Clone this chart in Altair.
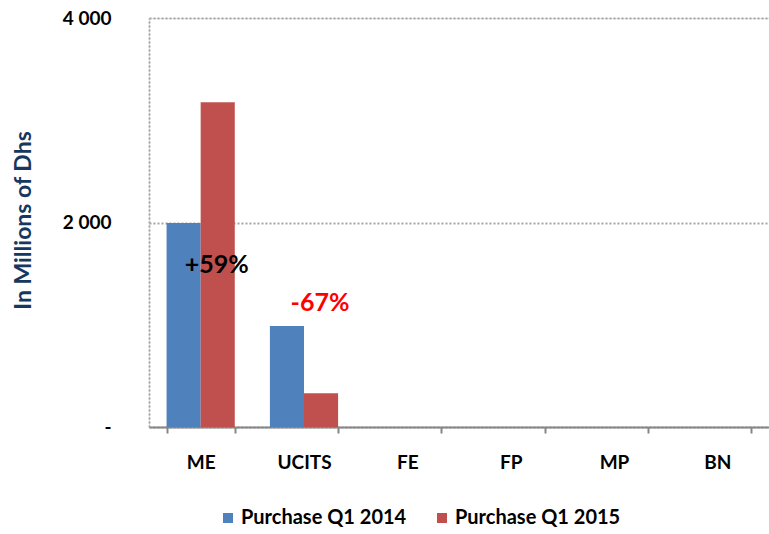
import altair as alt
import pandas as pd

categories = ["ME", "UCITS", "FE", "FP", "MP", "BN"]
series = ["Purchase Q1 2014", "Purchase Q1 2015"]
q1_2014 = [1995, 988, 0, 0, 0, 0]
q1_2015 = [3176, 330, 0, 0, 0, 0]
ann_categories = ["ME", "UCITS"]
ann_change = [59, -67]
ann_y = [1580, 1210]
y_ticks = [0, 2000, 4000]

rows = []
for i, c in enumerate(categories):
    rows.append({"category": c, "series": series[0], "value": q1_2014[i]})
    rows.append({"category": c, "series": series[1], "value": q1_2015[i]})
df = pd.DataFrame(rows)
ann = pd.DataFrame({"category": ann_categories, "change": ann_change, "y": ann_y})
ann["label"] = [("+" if v > 0 else "") + f"{v}%" for v in ann_change]

FONT = "Lato"
W = "bold"
GRID = "#A6A6A6"
AXIS = "#868686"

xenc = alt.X(
    "category:N",
    sort=categories,
    scale=alt.Scale(paddingInner=0.34, paddingOuter=0.17),
    axis=alt.Axis(
        title=None,
        labelAngle=0,
        tickBand="extent",
        domainColor=AXIS,
        domainWidth=2,
        tickColor=AXIS,
        tickWidth=2,
        tickSize=6,
        labelPadding=20,
        labelBaseline="top",
        labelFont=FONT,
        labelFontSize=19,
        labelFontWeight=W,
        labelColor="#000000",
        grid=False,
    ),
)

yenc = alt.Y(
    "value:Q",
    scale=alt.Scale(domain=[0, 4000], nice=False),
    axis=alt.Axis(
        values=y_ticks,
        labelExpr="datum.value == 0 ? '-' : replace(format(datum.value, ','), ',', ' ')",
        ticks=False,
        labelPadding=38,
        labelFont=FONT,
        labelFontSize=19,
        labelFontWeight=W,
        labelColor="#000000",
        domainColor=GRID,
        domainDash=[2, 2],
        domainWidth=2,
        grid=True,
        gridColor=GRID,
        gridDash=[2, 2],
        gridWidth=2,
        title="In Millions of Dhs",
        titleFont=FONT,
        titleFontSize=23,
        titleFontWeight=W,
        titleColor="#17375E",
        titleAngle=270,
        titleX=-126,
        titleY=202,
        titleAlign="center",
        titleBaseline="middle",
    ),
)

bars = alt.Chart(df).mark_bar().encode(
    x=xenc,
    y=yenc,
    xOffset=alt.XOffset("series:N", sort=series, scale=alt.Scale(paddingInner=0, paddingOuter=0)),
    color=alt.Color(
        "series:N",
        sort=series,
        scale=alt.Scale(domain=series, range=["#4F81BD", "#C0504D"]),
        legend=alt.Legend(
            title=None,
            orient="none",
            direction="horizontal",
            legendX=69,
            legendY=490,
            symbolType="square",
            symbolSize=100,
            symbolStrokeWidth=0,
            labelFont=FONT,
            labelFontSize=20,
            labelFontWeight=W,
            labelColor="#000000",
            labelLimit=400,
            columnPadding=25,
            symbolOffset=0,
            labelOffset=3,
        ),
    ),
)

text = alt.Chart(ann).mark_text(
    font=FONT, fontSize=25, fontWeight=W, dx=16, align="center", baseline="middle"
).encode(
    x=alt.X("category:N", sort=categories),
    y=alt.Y("y:Q"),
    text="label:N",
    color=alt.condition("datum.change < 0", alt.value("#FF0000"), alt.value("#000000")),
)

chart = (
    alt.layer(bars, text)
    .properties(
        width=620,
        height=409,
        autosize=alt.AutoSizeParams(type="none"),
        padding={"left": 149, "top": 18, "right": 0, "bottom": 107},
    )
    .configure_view(stroke=None)
    .configure(background="white")
)

chart.save("out.html", embed_options={"renderer": "svg", "actions": False})
